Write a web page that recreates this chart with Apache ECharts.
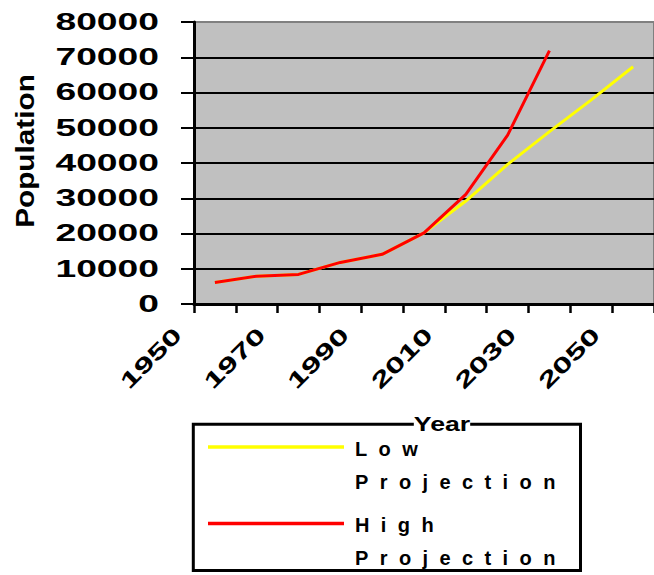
<!DOCTYPE html>
<html>
<head>
<meta charset="utf-8">
<script src="https://cdn.jsdelivr.net/npm/echarts@6/dist/echarts.min.js"></script>
<style>
  html, body { margin: 0; padding: 0; background: #ffffff; }
  #chart { width: 654px; height: 575px; }
  /* legend captions (the only 20px text) are set in widely spaced letters */
  #chart text[style*="20px"], #chart text[font-size="20px"], #chart text[font-size="20"] { letter-spacing: 11.4px; }
</style>
</head>
<body>
<div id="chart"></div>
<script>
// Population by decade, with two projections that share the historical part
const years = ['1950', '1960', '1970', '1980', '1990', '2000', '2010', '2020', '2030', '2040', '2050'];
const lowProjection  = [6100, 7900, 8400, 11800, 14100, 20200, 29200, 39600, 48900, 57900, 67300];
const highProjection = [6100, 7900, 8400, 11800, 14100, 20200, 31100, 47900, 71900, null, null];
const seriesNames = ['Low Projection', 'High Projection'];
const seriesColors = ['#FFFF00', '#FF0000'];
const yTickValues = [0, 10000, 20000, 30000, 40000, 50000, 60000, 70000, 80000];
const xTickLabels = ['1950', '1970', '1990', '2010', '2030', '2050'];
const yAxisTitle = 'Population';
const xAxisTitle = 'Year';

const chart = echarts.init(document.getElementById('chart'), null, { renderer: 'svg' });

chart.setOption({
  animation: false,
  grid: {
    left: 194, top: 22, width: 462, height: 282,
    show: true, backgroundColor: '#C0C0C0', borderColor: '#808080', borderWidth: 2
  },
  xAxis: {
    type: 'category',
    data: years,
    boundaryGap: true,
    axisLine: { show: true, lineStyle: { color: '#000', width: 3 } },
    axisTick: { show: true, interval: 0, length: 9, lineStyle: { color: '#000', width: 2.5 } },
    axisLabel: { show: false },
    splitLine: { show: false }
  },
  yAxis: {
    type: 'value',
    min: 0, max: 80000, interval: 10000,
    axisLine: { show: true, lineStyle: { color: '#000', width: 3 } },
    axisTick: { show: true, length: 13, lineStyle: { color: '#000', width: 2 } },
    axisLabel: { show: false },
    splitLine: { show: true, showMaxLine: false, lineStyle: { color: '#000', width: 2 } }
  },
  series: [
    {
      name: seriesNames[0], type: 'line', data: lowProjection,
      symbol: 'none', color: seriesColors[0],
      lineStyle: { width: 3, color: seriesColors[0] }, z: 3
    },
    {
      name: seriesNames[1], type: 'line', data: highProjection,
      symbol: 'none', color: seriesColors[1],
      lineStyle: { width: 3, color: seriesColors[1] }, z: 4
    }
  ]
});

// Axis texts are drawn as wide bold lettering, placed from the axis scales
const textFont = 'Liberation Sans';
const graphics = [];

yTickValues.forEach(function (v) {
  const py = chart.convertToPixel({ yAxisIndex: 0 }, v);
  graphics.push({
    type: 'text', x: 159, y: py, scaleX: 1.62, z: 100,
    style: {
      text: String(v), fill: '#000',
      fontFamily: textFont, fontWeight: 'bold', fontSize: 23,
      align: 'right', verticalAlign: 'middle'
    }
  });
});

xTickLabels.forEach(function (label) {
  const px = chart.convertToPixel({ xAxisIndex: 0 }, label);
  graphics.push({
    type: 'text', x: px - 37, y: 331, rotation: Math.PI / 4, scaleX: 1.56, z: 100,
    style: {
      text: label, fill: '#000',
      fontFamily: textFont, fontWeight: 'bold', fontSize: 22,
      align: 'right', verticalAlign: 'middle'
    }
  });
});

graphics.push({
  type: 'text', x: 25, y: 151, rotation: Math.PI / 2, scaleX: 1.19, z: 100,
  style: {
    text: yAxisTitle, fill: '#000',
    fontFamily: textFont, fontWeight: 'bold', fontSize: 25,
    align: 'center', verticalAlign: 'middle'
  }
});

// Legend box
graphics.push({
  type: 'rect', z: 90,
  shape: { x: 193.3, y: 424.3, width: 387.2, height: 146.2 },
  style: { fill: '#fff', stroke: '#000', lineWidth: 3 }
});
const legendRows = [448.5, 525];
seriesNames.forEach(function (name, i) {
  graphics.push({
    type: 'line', z: 95,
    shape: { x1: 208, y1: legendRows[i] - 1.5, x2: 344, y2: legendRows[i] - 1.5 },
    style: { stroke: seriesColors[i], lineWidth: 3.5 }
  });
  graphics.push({
    type: 'text', x: 355, y: legendRows[i] - 16.5, z: 96,
    style: {
      text: name.split(' ').join('\n'), fill: '#000',
      fontFamily: textFont, fontWeight: 'bold', fontSize: 20, lineHeight: 33,
      align: 'left', verticalAlign: 'top'
    }
  });
});

graphics.push({
  type: 'text', x: 442, y: 424, scaleX: 1.27, z: 110,
  style: {
    text: xAxisTitle, fill: '#000', backgroundColor: '#fff',
    fontFamily: textFont, fontWeight: 'bold', fontSize: 21,
    align: 'center', verticalAlign: 'middle'
  }
});

chart.setOption({ graphic: graphics });
</script>
</body>
</html>
